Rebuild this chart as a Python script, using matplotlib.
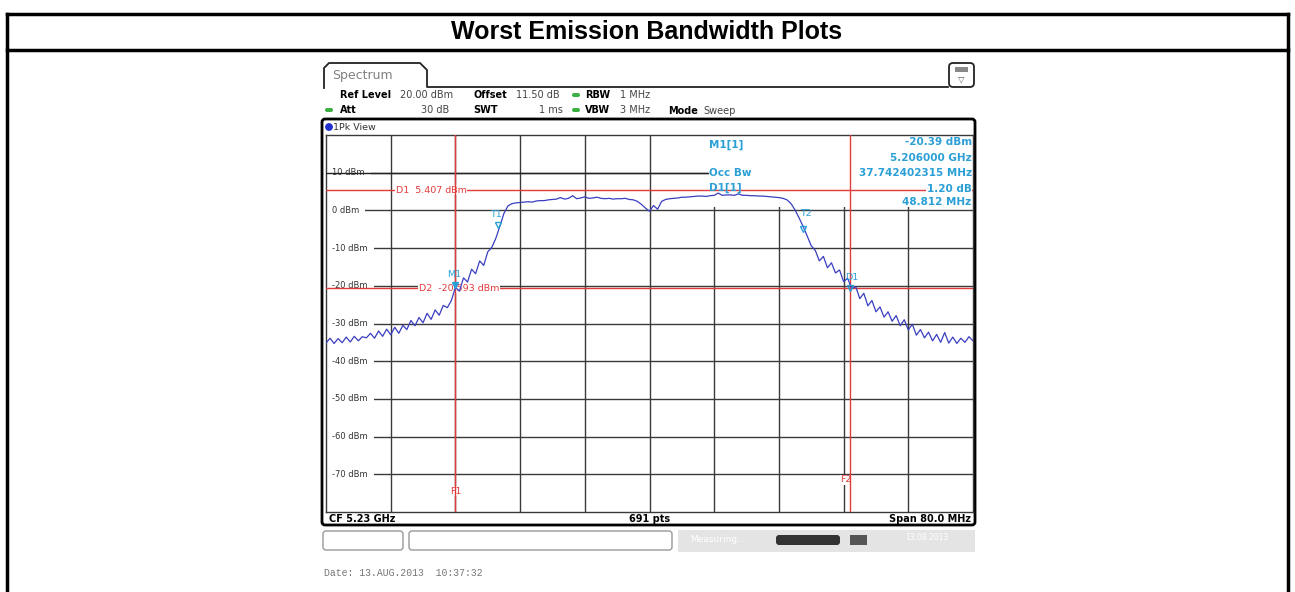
import numpy as np
import matplotlib
matplotlib.use("Agg")
import matplotlib.pyplot as plt
from matplotlib.patches import Rectangle, FancyBboxPatch

# sweep settings (MHz), CF 5.23 GHz / span 80 MHz
start_mhz = 5190.0
stop_mhz = 5270.0
step_mhz = 0.5

# trace level, one value per 0.5 MHz
level_dbm = [
    -35.2, -33.9, -35.3, -34.0, -35.1, -33.6, -34.9, -33.4, -34.6, -33.5,
    -33.8, -32.6, -33.9, -32.0, -33.4, -31.5, -33.0, -31.0, -32.6, -30.5,
    -31.6, -29.2, -30.6, -28.4, -29.8, -27.3, -28.9, -26.4, -27.8, -25.2,
    -25.8, -23.9, -20.4, -21.4, -17.9, -19.0, -15.6, -16.8, -13.4, -14.6,
    -11.0, -9.8, -7.4, -4.2, -0.8, 1.2, 1.8, 2.0, 2.1, 2.2,
    2.3, 2.2, 2.5, 2.6, 2.6, 2.8, 2.9, 3.0, 3.4, 3.0,
    3.2, 3.9, 3.1, 3.3, 3.6, 3.2, 3.3, 3.5, 3.2, 3.1,
    3.2, 3.0, 3.1, 3.1, 3.2, 2.9, 2.8, 2.4, 1.6, 0.6,
    -0.2, 1.3, 0.3, 2.4, 2.9, 3.1, 3.2, 3.3, 3.5, 3.5,
    3.6, 3.7, 3.8, 3.8, 3.7, 3.9, 4.0, 4.6, 4.0, 4.1,
    4.1, 4.0, 4.4, 4.0, 4.0, 3.9, 3.9, 3.8, 3.8, 3.7,
    3.6, 3.5, 3.4, 3.2, 2.8, 1.8, 0.1, -2.0, -4.3, -6.8,
    -9.4, -10.6, -13.4, -12.2, -15.2, -13.9, -16.6, -15.8, -18.9, -18.0,
    -20.8, -20.2, -23.4, -22.0, -25.3, -23.9, -26.9, -25.6, -28.3, -26.9,
    -29.4, -27.9, -30.6, -29.0, -31.7, -30.2, -33.1, -31.6, -33.8, -32.3,
    -34.6, -32.9, -35.0, -32.4, -35.2, -33.6, -35.3, -33.9, -35.0, -33.5,
    -34.6,
]
freqs = start_mhz + step_mhz * np.arange(len(level_dbm))

grid_levels = [10, 0, -10, -20, -30, -40, -50, -60, -70]
grid_freqs = [5198, 5206, 5214, 5222, 5230, 5238, 5246, 5254, 5262]
level_labels = ["10 dBm", "0 dBm", "-10 dBm", "-20 dBm", "-30 dBm",
                "-40 dBm", "-50 dBm", "-60 dBm", "-70 dBm"]

d1_level = 5.407
d2_level = -20.593
f1_freq = 5206.0
f2_freq = 5254.812
m1_freq, m1_level = 5206.0, -20.39
t1_freq, t1_level = 5211.3, -4.0
t2_freq, t2_level = 5249.0, -5.0
d1_freq, d1_mark = 5254.812, -21.5

marker_rows = ["-20.39 dBm", "5.206000 GHz", "37.742402315 MHz", "1.20 dB", "48.812 MHz"]
marker_row_y = [18.1, 13.9, 9.9, 5.6, 2.2]

RED = "#e23b3b"
CYAN = "#2a9fd6"
TRACE = "#3a3ec0"
GRID = "#3a3a3a"

fig = plt.figure(figsize=(12.95, 5.92), dpi=100)
fig.patch.set_facecolor("white")

# overlay in pixel coordinates for the page / instrument chrome
ov = fig.add_axes([0, 0, 1, 1], zorder=0)
ov.set_xlim(0, 1295)
ov.set_ylim(592, 0)
ov.axis("off")

# table frame + title
for xs, ys in [([7, 7], [14, 592]), ([1288, 1288], [14, 592]),
               ([7, 1288], [14, 14]), ([7, 1288], [50, 50])]:
    ov.plot(xs, ys, color="black", lw=2.5, solid_capstyle="projecting")
ov.text(647, 32, "Worst Emission Bandwidth Plots", ha="center", va="center",
        fontsize=18, fontweight="bold", family="Liberation Sans")

# spectrum tab
tab_x = [324, 324, 329, 420, 427, 427, 948]
tab_y = [88, 68, 63, 63, 70, 87, 87]
ov.plot(tab_x, tab_y, color="#222222", lw=1.3)
ov.text(332, 75, "Spectrum", fontsize=9, color="#808080", va="center")
icon = FancyBboxPatch((949, 63), 25, 24, boxstyle="round,pad=0,rounding_size=4",
                      fc="white", ec="#222222", lw=1.3)
ov.add_patch(icon)
ov.add_patch(Rectangle((955, 67), 13, 5, fc="#888888", ec="none"))
ov.text(961.5, 79, "\u25bd", fontsize=6, color="#555555", ha="center", va="center")

# setting lines
hdr = dict(fontsize=7, va="center")
val = dict(fontsize=7, va="center", color="#444444")
ov.text(340, 95, "Ref Level", fontweight="bold", **hdr)
ov.text(400, 95, "20.00 dBm", **val)
ov.text(473, 95, "Offset", fontweight="bold", **hdr)
ov.text(516, 95, "11.50 dB", **val)
ov.text(585, 95, "RBW", fontweight="bold", **hdr)
ov.text(620, 95, "1 MHz", **val)
ov.text(340, 110, "Att", fontweight="bold", **hdr)
ov.text(449, 110, "30 dB", ha="right", **val)
ov.text(473, 110, "SWT", fontweight="bold", **hdr)
ov.text(563, 110, "1 ms", ha="right", **val)
ov.text(585, 110, "VBW", fontweight="bold", **hdr)
ov.text(620, 110, "3 MHz", **val)
ov.text(668, 111, "Mode", fontweight="bold", **hdr)
ov.text(703, 111, "Sweep", **val)
for cx, cy in [(576, 95), (329, 110), (576, 110)]:
    ov.add_patch(FancyBboxPatch((cx - 4, cy - 2), 8, 4,
                                boxstyle="round,pad=0,rounding_size=2",
                                fc="#3cb043", ec="none"))

# diagram frame
frame = FancyBboxPatch((322, 119), 653, 406, boxstyle="round,pad=0,rounding_size=3",
                       fc="white", ec="black", lw=2)
ov.add_patch(frame)
ov.add_patch(plt.Circle((329, 127), 3.2, color="#2030d0"))
ov.text(333, 127, "1Pk View", fontsize=6.8, va="center", color="#333333")
ov.text(329, 519, "CF 5.23 GHz", fontsize=7, fontweight="bold", va="center")
ov.text(650, 519, "691 pts", fontsize=7, fontweight="bold", va="center", ha="center")
ov.text(971, 519, "Span 80.0 MHz", fontsize=7, fontweight="bold", va="center", ha="right")

# status bar
for x0, w in [(323, 80), (409, 263)]:
    ov.add_patch(FancyBboxPatch((x0, 531), w, 19, boxstyle="round,pad=0,rounding_size=3",
                                fc="white", ec="#999999", lw=1))
ov.add_patch(Rectangle((678, 530), 297, 22, fc="#e4e4e4", ec="none"))
ov.text(690, 540, "Measuring...", fontsize=6.5, color="white", va="center")
ov.add_patch(FancyBboxPatch((776, 535), 64, 10, boxstyle="round,pad=0,rounding_size=3",
                            fc="#333333", ec="none"))
ov.add_patch(Rectangle((850, 535), 17, 10, fc="#555555", ec="none"))
ov.text(905, 538, "13.08.2013", fontsize=5.5, color="white", va="center")
ov.text(324, 573, "Date: 13.AUG.2013  10:37:32", fontsize=7, color="#777777",
        va="center", family="Liberation Mono")

# spectrum diagram
ax = fig.add_axes([326 / 1295, 1 - 512 / 592, 647 / 1295, 377 / 592], zorder=1)
ax.set_xlim(start_mhz, stop_mhz)
ax.set_ylim(-80, 20)
ax.set_xticks([])
ax.set_yticks([])
for s in ax.spines.values():
    s.set_color(GRID)
    s.set_linewidth(1)

for lv in grid_levels:
    ax.axhline(lv, color=GRID, lw=1, zorder=1)
for fq in grid_freqs:
    ax.axvline(fq, color=GRID, lw=1, zorder=1)

ytr = ax.get_yaxis_transform()
for lv, lab in zip(grid_levels, level_labels):
    ax.text(0.01, lv, lab, transform=ytr, fontsize=6, va="center", color="#333333",
            zorder=2.5, bbox=dict(fc="white", ec="none", pad=4))

# marker info block covers the upper right grid
ax.add_patch(Rectangle((5237.2, 0.8), 33, 20, fc="white", ec="none", zorder=2))

# display / frequency lines
ax.axhline(d1_level, color=RED, lw=1, zorder=3)
ax.axhline(d2_level, color=RED, lw=1, zorder=3)
ax.text(5198.6, d1_level, "D1  5.407 dBm", fontsize=6.8, color=RED, va="center",
        zorder=4, bbox=dict(fc="white", ec="none", pad=0.5))
ax.text(5201.5, d2_level, "D2  -20.593 dBm", fontsize=6.8, color=RED, va="center",
        zorder=4, bbox=dict(fc="white", ec="none", pad=0.5))
ax.axvline(f1_freq, color=RED, lw=1, zorder=5)
ax.axvline(f2_freq, color=RED, lw=1, zorder=5)
ax.text(f1_freq, -74.5, "F1", fontsize=6.8, color=RED, ha="center", va="center",
        zorder=4, bbox=dict(fc="white", ec="none", pad=0.3))
ax.text(f2_freq - 0.5, -71.5, "F2", fontsize=6.8, color=RED, ha="center", va="center",
        zorder=4, bbox=dict(fc="white", ec="none", pad=0.3))

# trace
ax.plot(freqs, level_dbm, color=TRACE, lw=0.9, zorder=6)

# markers
ax.plot([m1_freq], [m1_level + 0.6], marker="v", ms=5, color=CYAN, zorder=7)
ax.text(m1_freq - 0.2, m1_level + 3.3, "M1", fontsize=6.8, color=CYAN, ha="center", va="center", zorder=7)
ax.plot([t1_freq], [t1_level], marker="v", ms=4, mfc="none", mec=CYAN, zorder=7)
ax.text(t1_freq - 0.3, t1_level + 3.0, "T1", fontsize=6.8, color=CYAN, ha="center", va="center", zorder=7)
ax.plot([t2_freq], [t2_level], marker="v", ms=4, mfc="none", mec=CYAN, zorder=7)
ax.text(t2_freq + 0.4, t2_level + 4.3, "T2", fontsize=6.8, color=CYAN, ha="center", va="center", zorder=7)
ax.plot([d1_freq], [d1_mark + 0.8], marker="v", ms=4, mfc="none", mec=CYAN, zorder=7)
ax.text(d1_freq + 0.2, d1_mark + 3.6, "D1", fontsize=6.8, color=CYAN, ha="center", va="center", zorder=7)

# marker table
ax.plot([5190, 5237.2], [10, 10], color="#222222", lw=1, zorder=3)
tb = dict(fontsize=7.5, fontweight="bold", color=CYAN, va="center", zorder=7)
ax.text(5237.3, 17.3, "M1[1]", **tb)
ax.text(5237.3, 10, "Occ Bw", **tb)
ax.text(5237.3, 5.9, "D1[1]", **tb)
for ry, txt in zip(marker_row_y, marker_rows):
    bb = dict(fc="white", ec="none", pad=0.5) if txt == "1.20 dB" else None
    ax.text(0.998, ry, txt, transform=ytr, ha="right", bbox=bb, **tb)

fig.savefig("out.png", dpi=100)
